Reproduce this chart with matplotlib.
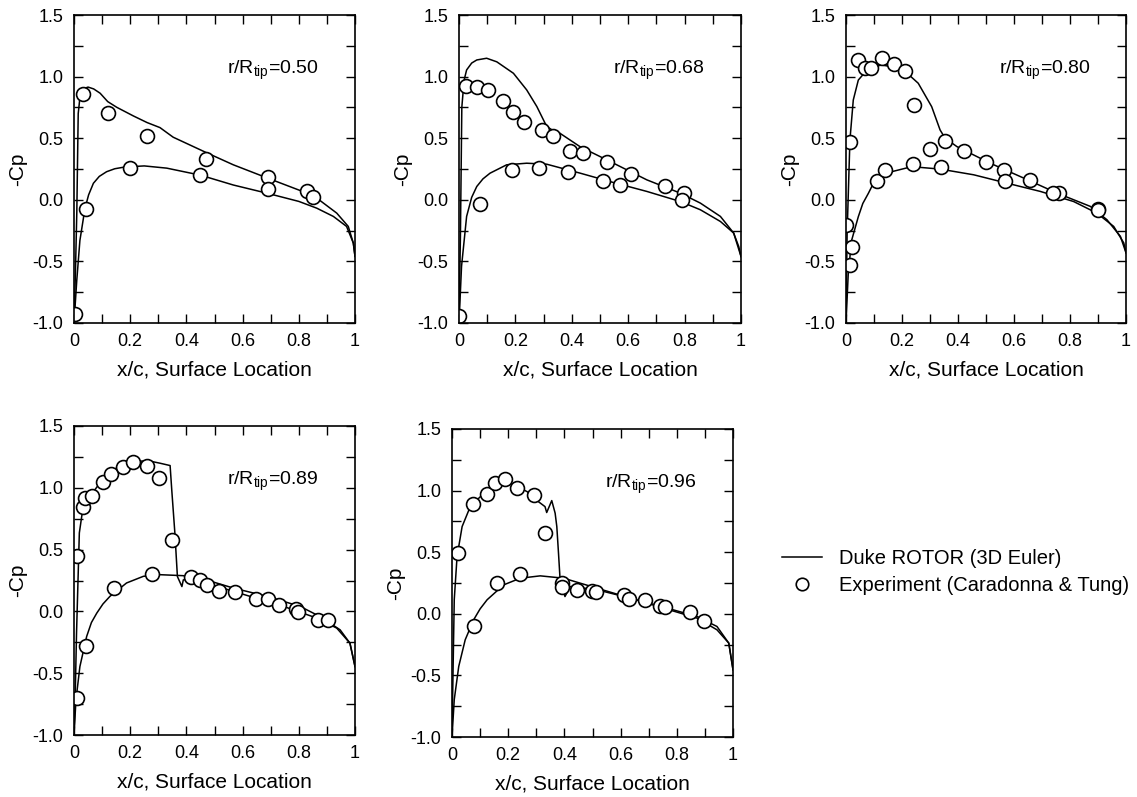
import matplotlib
matplotlib.use('Agg')
import matplotlib.pyplot as plt
from matplotlib.ticker import MultipleLocator, FuncFormatter
from matplotlib.lines import Line2D

plt.rcParams['font.family'] = ['Liberation Sans', 'DejaVu Sans']
plt.rcParams['mathtext.fontset'] = 'custom'
plt.rcParams['mathtext.rm'] = 'Liberation Sans'
plt.rcParams['mathtext.it'] = 'Liberation Sans'
plt.rcParams['axes.unicode_minus'] = False

# r/Rtip stations
stations = ['0.50', '0.68', '0.80', '0.89', '0.96']

# Duke ROTOR (3D Euler), upper and lower surface -Cp
cfd_up_x = [
    [0.0, 0.005, 0.01, 0.015, 0.022, 0.032, 0.05, 0.07, 0.093, 0.12, 0.152, 0.211, 0.26, 0.306, 0.33,
     0.353, 0.47, 0.567, 0.689, 0.804, 0.875, 0.935, 0.976, 0.994, 1.0],
    [0.0, 0.005, 0.01, 0.018, 0.027, 0.045, 0.063, 0.098, 0.134, 0.193, 0.24, 0.276, 0.311, 0.335, 0.358,
     0.43, 0.548, 0.666, 0.785, 0.856, 0.927, 0.974, 0.992, 1.0],
    [0.0, 0.004, 0.014, 0.026, 0.044, 0.08, 0.127, 0.199, 0.258, 0.306, 0.336, 0.354, 0.396, 0.515,
     0.635, 0.754, 0.873, 0.932, 0.98, 1.0],
    [0.0, 0.004, 0.009, 0.019, 0.031, 0.057, 0.093, 0.152, 0.211, 0.27, 0.306, 0.342, 0.348, 0.359,
     0.368, 0.384, 0.389, 0.448, 0.567, 0.686, 0.804, 0.875, 0.947, 0.982, 1.0],
    [0.0, 0.004, 0.008, 0.018, 0.036, 0.065, 0.101, 0.148, 0.19, 0.219, 0.267, 0.307, 0.331, 0.337,
     0.355, 0.367, 0.373, 0.379, 0.384, 0.402, 0.421, 0.516, 0.635, 0.753, 0.872, 0.943, 0.985, 1.0],
]
cfd_up_y = [
    [-1.0, -0.6, -0.1, 0.7, 0.85, 0.9, 0.915, 0.9, 0.865, 0.797, 0.751, 0.681, 0.627, 0.586, 0.546,
     0.508, 0.384, 0.284, 0.176, 0.076, -0.005, -0.108, -0.216, -0.351, -0.459],
    [-1.0, -0.3, 0.75, 0.97, 1.054, 1.11, 1.135, 1.149, 1.12, 1.027, 0.892, 0.757, 0.595, 0.56, 0.54,
     0.43, 0.297, 0.162, 0.054, -0.027, -0.135, -0.27, -0.38, -0.46],
    [-1.0, -0.27, 0.485, 0.81, 0.972, 1.067, 1.094, 1.067, 0.946, 0.756, 0.567, 0.5, 0.432, 0.297,
     0.176, 0.054, -0.054, -0.162, -0.297, -0.43],
    [-1.0, -0.716, -0.176, 0.635, 0.824, 0.932, 1.041, 1.162, 1.216, 1.216, 1.199, 1.18, 0.979, 0.633,
     0.282, 0.201, 0.255, 0.27, 0.189, 0.122, 0.041, -0.041, -0.149, -0.257, -0.446],
    [-1.0, -0.427, 0.114, 0.465, 0.708, 0.87, 0.951, 1.032, 1.059, 1.046, 0.992, 0.911, 0.87, 0.822,
     0.919, 0.817, 0.708, 0.492, 0.303, 0.14, 0.222, 0.195, 0.127, 0.054, -0.022, -0.103, -0.238, -0.454],
]
cfd_lo_x = [
    [0.0, 0.01, 0.021, 0.039, 0.052, 0.069, 0.09, 0.116, 0.145, 0.18, 0.25, 0.33, 0.45, 0.567, 0.686,
     0.80, 0.864, 0.923, 0.97, 0.994, 1.0],
    [0.0, 0.009, 0.027, 0.045, 0.063, 0.085, 0.11, 0.169, 0.24, 0.311, 0.43, 0.548, 0.666, 0.785, 0.856,
     0.927, 0.974, 1.0],
    [0.0, 0.008, 0.02, 0.044, 0.06, 0.08, 0.097, 0.115, 0.163, 0.235, 0.337, 0.456, 0.575, 0.694, 0.813,
     0.896, 0.956, 0.992, 1.0],
    [0.0, 0.007, 0.021, 0.045, 0.062, 0.081, 0.103, 0.128, 0.187, 0.247, 0.306, 0.389, 0.508, 0.626,
     0.745, 0.864, 0.935, 0.982, 1.0],
    [0.0, 0.008, 0.024, 0.047, 0.077, 0.1, 0.125, 0.184, 0.243, 0.314, 0.397, 0.516, 0.635, 0.753, 0.872,
     0.943, 0.985, 1.0],
]
cfd_lo_y = [
    [-1.0, -0.65, -0.33, -0.07, 0.04, 0.134, 0.19, 0.228, 0.252, 0.266, 0.275, 0.257, 0.2, 0.12, 0.054,
     -0.013, -0.068, -0.135, -0.216, -0.351, -0.459],
    [-1.0, -0.54, -0.135, 0.02, 0.108, 0.17, 0.216, 0.284, 0.297, 0.289, 0.216, 0.14, 0.068, -0.014, -0.081,
     -0.176, -0.27, -0.46],
    [-1.0, -0.6, -0.33, -0.137, -0.03, 0.053, 0.13, 0.188, 0.228, 0.269, 0.249, 0.203, 0.135, 0.068,
     -0.014, -0.108, -0.216, -0.35, -0.43],
    [-1.0, -0.716, -0.446, -0.203, -0.09, -0.014, 0.06, 0.122, 0.23, 0.284, 0.297, 0.289, 0.203, 0.122,
     0.041, -0.054, -0.135, -0.257, -0.446],
    [-1.0, -0.697, -0.427, -0.211, -0.049, 0.04, 0.114, 0.235, 0.289, 0.308, 0.289, 0.208, 0.127, 0.046,
     -0.035, -0.13, -0.238, -0.454],
]

# Experiment (Caradonna & Tung)
exp_up_x = [
    [0.031, 0.12, 0.26, 0.47, 0.69, 0.83, 0.85],
    [0.025, 0.063, 0.102, 0.157, 0.193, 0.232, 0.293, 0.333, 0.394, 0.441, 0.524, 0.609, 0.731, 0.799],
    [0.013, 0.043, 0.067, 0.09, 0.129, 0.17, 0.21, 0.242, 0.299, 0.352, 0.423, 0.499, 0.563, 0.656,
     0.762, 0.899],
    [0.009, 0.031, 0.040, 0.063, 0.102, 0.132, 0.173, 0.211, 0.259, 0.304, 0.35, 0.416, 0.448, 0.472,
     0.517, 0.573, 0.648, 0.689, 0.731, 0.79, 0.798, 0.87, 0.903],
    [0.02, 0.075, 0.125, 0.152, 0.19, 0.231, 0.291, 0.332, 0.391, 0.445, 0.498, 0.514, 0.611, 0.629,
     0.688, 0.739, 0.759, 0.848, 0.898],
]
exp_up_y = [
    [0.857, 0.703, 0.514, 0.335, 0.189, 0.073, 0.019],
    [0.924, 0.919, 0.892, 0.803, 0.711, 0.630, 0.568, 0.514, 0.400, 0.378, 0.305, 0.211, 0.116, 0.054],
    [0.468, 1.135, 1.073, 1.073, 1.154, 1.103, 1.049, 0.768, 0.414, 0.481, 0.4, 0.305, 0.243, 0.157,
     0.059, -0.076],
    [0.446, 0.846, 0.914, 0.932, 1.049, 1.114, 1.168, 1.208, 1.176, 1.076, 0.581, 0.276, 0.257, 0.216,
     0.168, 0.154, 0.1, 0.1, 0.049, 0.022, -0.005, -0.068, -0.073],
    [0.497, 0.889, 0.97, 1.059, 1.095, 1.019, 0.965, 0.659, 0.254, 0.195, 0.189, 0.173, 0.149, 0.119,
     0.108, 0.065, 0.059, 0.011, -0.062],
]
exp_lo_x = [
    [0.002, 0.043, 0.20, 0.45, 0.69],
    [0.001, 0.075, 0.187, 0.285, 0.385, 0.512, 0.572, 0.79],
    [0.0, 0.021, 0.014, 0.111, 0.14, 0.239, 0.34, 0.569, 0.738, 0.899],
    [0.009, 0.043, 0.142, 0.279],
    [0.077, 0.16, 0.243, 0.391],
]
exp_lo_y = [
    [-0.927, -0.073, 0.257, 0.203, 0.086],
    [-0.941, -0.032, 0.238, 0.262, 0.222, 0.154, 0.122, 0.0],
    [-0.203, -0.384, -0.532, 0.149, 0.238, 0.289, 0.27, 0.149, 0.054, -0.086],
    [-0.703, -0.276, 0.189, 0.305],
    [-0.095, 0.249, 0.324, 0.22],
]

W, H = 1137, 797
# axes boxes in pixels: left, top, right, bottom
boxes = [(74, 15, 355, 323), (459, 15, 741, 323), (846, 15, 1126, 323),
         (74, 426, 355, 735), (452, 429, 733, 737)]


def xfmt(v, pos):
    if abs(v) < 1e-9:
        return '0'
    if abs(v - 1) < 1e-9:
        return '1'
    return '%.1f' % v


fig = plt.figure(figsize=(W / 100, H / 100), dpi=100)

for i in range(5):
    l, t, r, b = boxes[i]
    ax = fig.add_axes([l / W, 1 - b / H, (r - l) / W, (b - t) / H])
    ax.plot(cfd_up_x[i], cfd_up_y[i], color='black', lw=1.1)
    ax.plot(cfd_lo_x[i], cfd_lo_y[i], color='black', lw=1.1)
    ax.plot(exp_up_x[i], exp_up_y[i], 'o', ms=10, mfc='white', mec='black', mew=1.2)
    ax.plot(exp_lo_x[i], exp_lo_y[i], 'o', ms=10, mfc='white', mec='black', mew=1.2)
    ax.set_xlim(0, 1)
    ax.set_ylim(-1, 1.5)
    ax.xaxis.set_major_locator(MultipleLocator(0.2))
    ax.xaxis.set_minor_locator(MultipleLocator(0.1))
    ax.yaxis.set_major_locator(MultipleLocator(0.5))
    ax.yaxis.set_minor_locator(MultipleLocator(0.25))
    ax.xaxis.set_major_formatter(FuncFormatter(xfmt))
    ax.yaxis.set_major_formatter(FuncFormatter(lambda v, p: '%.1f' % v))
    ax.tick_params(which='both', direction='in', top=True, right=True, length=6.5, width=1)
    ax.tick_params(which='major', labelsize=13, pad=7.5)
    for s in ax.spines.values():
        s.set_linewidth(1.2)
    ax.set_xlabel('x/c, Surface Location', fontsize=15, labelpad=7)
    ax.set_ylabel('-Cp', fontsize=15, labelpad=4)
    ax.text(0.545, 0.81, r'r/R$_{\mathrm{tip}}$=' + stations[i], transform=ax.transAxes,
            fontsize=14, ha='left', va='baseline')

handles = [Line2D([], [], color='black', lw=1.1),
           Line2D([], [], ls='none', marker='o', ms=9, mfc='white', mec='black', mew=1.2)]
fig.legend(handles, ['Duke ROTOR (3D Euler)', 'Experiment (Caradonna & Tung)'],
           loc='upper left', bbox_to_anchor=(764 / W, 1 - 531 / H), frameon=False,
           fontsize=14.5, handlelength=2.0, labelspacing=0.4)

fig.savefig('out.png', dpi=100)
